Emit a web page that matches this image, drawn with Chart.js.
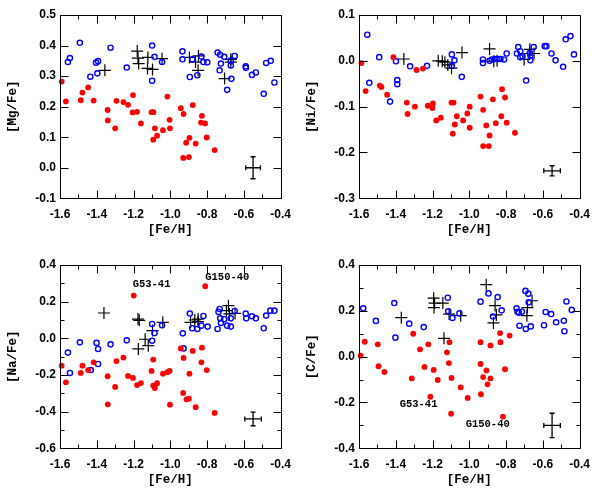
<!DOCTYPE html>
<html>
<head>
<meta charset="UTF-8">
<title>[X/Fe] vs [Fe/H]</title>
<script src="https://cdn.jsdelivr.net/npm/chart.js"></script>
<style>
  body { margin: 0; background: #fff; }
  #wrap { position: relative; width: 599px; height: 499px; overflow: hidden; }
  canvas { position: absolute; }
</style>
</head>
<body>
<div id="wrap">
  <canvas id="mg" width="300" height="249" style="left:0;top:0"></canvas>
  <canvas id="ni" width="300" height="249" style="left:299px;top:0"></canvas>
  <canvas id="na" width="300" height="250" style="left:0;top:249px"></canvas>
  <canvas id="cf" width="300" height="250" style="left:299px;top:249px"></canvas>
</div>
<script>
// x axis, shared by all panels
const feTicks = [-1.6, -1.4, -1.2, -1.0, -0.8, -0.6, -0.4];

// [Mg/Fe]
const mgTicks = [-0.1, 0.0, 0.1, 0.2, 0.3, 0.4, 0.5];
const mgBlue = [[-1.557,0.346],[-1.546,0.359],[-1.492,0.409],[-1.435,0.298],[-1.404,0.344],[-1.393,0.349],[-1.397,0.309],[-1.325,0.393],[-1.237,0.328],[-1.099,0.400],[-1.099,0.285],[-1.086,0.363],[-1.045,0.346],[-0.934,0.381],[-0.934,0.355],[-0.894,0.297],[-0.880,0.355],[-0.853,0.303],[-0.831,0.364],[-0.820,0.346],[-0.799,0.345],[-0.743,0.377],[-0.729,0.370],[-0.732,0.319],[-0.725,0.341],[-0.707,0.363],[-0.691,0.255],[-0.671,0.351],[-0.671,0.335],[-0.668,0.291],[-0.650,0.366],[-0.590,0.332],[-0.589,0.327],[-0.556,0.304],[-0.535,0.312],[-0.492,0.242],[-0.479,0.343],[-0.454,0.350],[-0.434,0.279]];
const mgRed = [[-1.591,0.282],[-1.568,0.217],[-1.487,0.221],[-1.478,0.246],[-1.447,0.263],[-1.417,0.220],[-1.341,0.189],[-1.340,0.155],[-1.300,0.129],[-1.293,0.219],[-1.255,0.215],[-1.230,0.206],[-1.203,0.238],[-1.205,0.181],[-1.181,0.183],[-1.160,0.145],[-1.102,0.182],[-1.092,0.182],[-1.093,0.092],[-1.084,0.129],[-1.072,0.105],[-1.040,0.123],[-1.016,0.233],[-1.004,0.157],[-1.002,0.129],[-0.943,0.195],[-0.928,0.176],[-0.930,0.032],[-0.914,0.082],[-0.896,0.098],[-0.899,0.035],[-0.878,0.205],[-0.862,0.079],[-0.833,0.148],[-0.828,0.170],[-0.811,0.145],[-0.802,0.099],[-0.759,0.058]];
const mgPlus = [[-1.356,0.319],[-1.180,0.382],[-1.176,0.359],[-1.172,0.341],[-1.122,0.361],[-1.124,0.325],[-1.097,0.322],[-1.045,0.357],[-0.896,0.361],[-0.863,0.346],[-0.847,0.366],[-0.849,0.319],[-0.705,0.292],[-0.671,0.355],[-0.671,0.346]];
const mgErr = [-0.55, 0.0, 0.04, 0.036];

// [Ni/Fe]
const niTicks = [-0.3, -0.2, -0.1, 0.0, 0.1];
const niBlue = [[-1.555,0.057],[-1.544,-0.048],[-1.490,0.008],[-1.431,-0.089],[-1.399,-0.001],[-1.392,-0.042],[-1.392,-0.051],[-1.322,-0.012],[-1.230,-0.011],[-1.095,0.014],[-1.095,-0.011],[-1.081,0.001],[-1.041,-0.035],[-0.926,0.003],[-0.926,-0.005],[-0.890,0.000],[-0.878,0.003],[-0.862,0.004],[-0.847,0.004],[-0.831,0.004],[-0.811,0.003],[-0.797,0.016],[-0.734,0.030],[-0.741,0.016],[-0.723,0.021],[-0.723,0.008],[-0.711,0.010],[-0.691,-0.043],[-0.671,0.017],[-0.668,0.012],[-0.668,0.001],[-0.650,0.030],[-0.590,0.032],[-0.581,0.032],[-0.553,0.016],[-0.531,0.001],[-0.490,-0.013],[-0.476,0.047],[-0.450,0.054],[-0.431,0.014]];
const niRed = [[-1.587,-0.005],[-1.564,-0.066],[-1.487,-0.054],[-1.478,-0.057],[-1.447,-0.074],[-1.413,0.008],[-1.340,-0.091],[-1.336,-0.116],[-1.296,-0.100],[-1.287,-0.020],[-1.252,-0.017],[-1.226,-0.098],[-1.201,-0.103],[-1.198,-0.093],[-1.180,-0.130],[-1.155,-0.124],[-1.097,-0.091],[-1.086,-0.091],[-1.090,-0.159],[-1.079,-0.139],[-1.068,-0.121],[-1.034,-0.130],[-1.011,-0.115],[-0.998,-0.100],[-0.998,-0.146],[-0.939,-0.078],[-0.925,-0.107],[-0.925,-0.186],[-0.908,-0.141],[-0.894,-0.186],[-0.890,-0.163],[-0.872,-0.084],[-0.856,-0.136],[-0.826,-0.121],[-0.822,-0.062],[-0.806,-0.080],[-0.797,-0.135],[-0.752,-0.157]];
const niPlus = [[-1.356,0.004],[-1.169,0.000],[-1.147,-0.001],[-1.133,-0.003],[-1.117,-0.009],[-1.097,-0.016],[-1.040,0.018],[-0.890,0.026],[-0.867,-0.001],[-0.849,0.000],[-0.702,0.003],[-0.671,0.025],[-0.671,0.016],[-0.648,0.016]];
const niErr = [-0.55, -0.24, 0.045, 0.011];

// [Na/Fe]
const naTicks = [-0.6, -0.4, -0.2, 0.0, 0.2, 0.4];
const naBlue = [[-1.557,-0.078],[-1.546,-0.189],[-1.492,-0.022],[-1.433,-0.173],[-1.401,-0.025],[-1.393,-0.058],[-1.393,-0.140],[-1.325,-0.033],[-1.237,-0.011],[-1.099,0.078],[-1.099,-0.013],[-1.086,0.029],[-1.045,0.071],[-0.932,0.027],[-0.928,-0.055],[-0.894,0.135],[-0.881,0.055],[-0.853,0.051],[-0.831,0.069],[-0.820,0.122],[-0.797,0.064],[-0.743,0.051],[-0.738,0.144],[-0.732,0.160],[-0.729,0.109],[-0.725,0.084],[-0.707,0.104],[-0.691,0.069],[-0.671,0.064],[-0.671,0.109],[-0.650,0.149],[-0.590,0.135],[-0.587,0.109],[-0.556,0.120],[-0.535,0.109],[-0.492,0.055],[-0.479,0.124],[-0.456,0.151],[-0.434,0.151]];
const naRed = [[-1.591,-0.149],[-1.568,-0.240],[-1.487,-0.189],[-1.478,-0.149],[-1.447,-0.173],[-1.417,-0.131],[-1.341,-0.207],[-1.340,-0.360],[-1.300,-0.265],[-1.293,-0.124],[-1.255,-0.105],[-1.230,-0.205],[-1.203,-0.216],[-1.199,0.233],[-1.181,-0.255],[-1.160,-0.244],[-1.102,-0.178],[-1.093,-0.116],[-1.093,-0.258],[-1.084,-0.271],[-1.072,-0.245],[-1.040,-0.193],[-1.016,-0.185],[-1.004,-0.178],[-1.002,-0.362],[-0.943,-0.055],[-0.928,-0.107],[-0.930,-0.298],[-0.912,-0.333],[-0.899,-0.329],[-0.896,-0.193],[-0.878,-0.069],[-0.862,-0.376],[-0.831,-0.131],[-0.828,-0.051],[-0.810,0.284],[-0.802,-0.173],[-0.759,-0.407]];
const naPlus = [[-1.361,0.138],[-1.176,0.105],[-1.169,0.098],[-1.174,-0.058],[-1.137,-0.005],[-1.120,-0.040],[-1.097,0.042],[-1.041,0.087],[-0.890,0.087],[-0.867,0.100],[-0.849,0.105],[-0.849,0.091],[-0.695,0.151],[-0.684,0.178],[-0.679,0.133],[-0.648,0.136]];
const naErr = [-0.55, -0.44, 0.045, 0.037];
const naNotes = [['G53-41', -1.205, 0.293], ['G150-40', -0.81, 0.331]];

// [C/Fe]
const cTicks = [-0.4, -0.2, 0.0, 0.2, 0.4];
const cBlue = [[-1.577,0.211],[-1.508,0.156],[-1.408,0.234],[-1.402,0.083],[-1.327,0.144],[-1.248,0.129],[-1.117,0.257],[-1.115,0.198],[-1.092,0.169],[-1.054,0.189],[-0.939,0.240],[-0.896,0.276],[-0.871,0.175],[-0.846,0.260],[-0.824,0.202],[-0.743,0.211],[-0.738,0.196],[-0.731,0.192],[-0.727,0.135],[-0.714,0.196],[-0.695,0.287],[-0.693,0.121],[-0.679,0.275],[-0.677,0.237],[-0.666,0.132],[-0.594,0.137],[-0.585,0.195],[-0.555,0.186],[-0.528,0.150],[-0.486,0.157],[-0.483,0.111],[-0.472,0.241],[-0.443,0.204]];
const cRed = [[-1.591,0.004],[-1.569,0.065],[-1.498,0.054],[-1.494,-0.042],[-1.462,-0.067],[-1.313,-0.095],[-1.305,0.100],[-1.268,0.032],[-1.244,-0.045],[-1.223,0.054],[-1.212,-0.175],[-1.194,-0.058],[-1.172,-0.102],[-1.122,0.019],[-1.111,-0.028],[-1.108,0.063],[-1.097,-0.093],[-1.099,-0.249],[-1.047,-0.134],[-1.009,-0.180],[-0.939,0.063],[-0.939,-0.032],[-0.937,-0.164],[-0.925,-0.089],[-0.907,-0.060],[-0.901,-0.121],[-0.885,-0.095],[-0.885,0.049],[-0.833,0.103],[-0.831,0.063],[-0.817,-0.262],[-0.806,-0.055],[-0.781,0.092]];
const cPlus = [[-1.370,0.170],[-1.194,0.255],[-1.192,0.214],[-1.189,0.234],[-1.144,0.234],[-1.138,0.080],[-1.110,0.186],[-1.047,0.179],[-0.908,0.314],[-0.869,0.147],[-0.860,0.223],[-0.853,0.182],[-0.687,0.179],[-0.684,0.214],[-0.659,0.244]];
const cErr = [-0.55, -0.30, 0.045, 0.053];
const cNotes = [['G53-41', -1.379, -0.208], ['G150-40', -1.020, -0.297]];

Chart.defaults.font.family = 'Liberation Sans, Arial, sans-serif';
Chart.defaults.font.size = 12;
Chart.defaults.font.weight = 'bold';
Chart.defaults.color = '#000';

const mono = 'Liberation Mono, monospace';

// frame with inward ticks, error cross and star labels
const framePlugin = {
  id: 'frame',
  afterDatasetsDraw(chart, args, opts) {
    const {ctx, chartArea: a, scales: {x, y}} = chart;
    const L = Math.round(a.left) + 0.5, R = Math.round(a.right) + 0.5;
    const T = Math.round(a.top) + 0.5, B = Math.round(a.bottom) + 0.5;
    ctx.save();
    ctx.strokeStyle = '#000';
    ctx.lineWidth = 1;
    ctx.strokeRect(L, T, R - L, B - T);
    ctx.beginPath();
    const xt = x.ticks.map(t => t.value);
    xt.forEach((v, i) => {
      const px = Math.round(x.getPixelForValue(v)) + 0.5;
      ctx.moveTo(px, B); ctx.lineTo(px, B - 8);
      ctx.moveTo(px, T); ctx.lineTo(px, T + 8);
      if (i < xt.length - 1) {
        const pm = Math.round(x.getPixelForValue((v + xt[i + 1]) / 2)) + 0.5;
        ctx.moveTo(pm, B); ctx.lineTo(pm, B - 4);
        ctx.moveTo(pm, T); ctx.lineTo(pm, T + 4);
      }
    });
    const yt = y.ticks.map(t => t.value);
    yt.forEach((v, i) => {
      const py = Math.round(y.getPixelForValue(v)) + 0.5;
      ctx.moveTo(L, py); ctx.lineTo(L + 8, py);
      ctx.moveTo(R, py); ctx.lineTo(R - 8, py);
      if (opts.minorY && i < yt.length - 1) {
        const pm = Math.round(y.getPixelForValue((v + yt[i + 1]) / 2)) + 0.5;
        ctx.moveTo(L, pm); ctx.lineTo(L + 4, pm);
        ctx.moveTo(R, pm); ctx.lineTo(R - 4, pm);
      }
    });
    ctx.stroke();

    // typical error bar
    const [ex, ey, dx, dy] = opts.err;
    const cx = x.getPixelForValue(ex), cy = y.getPixelForValue(ey);
    const x0 = x.getPixelForValue(ex - dx), x1 = x.getPixelForValue(ex + dx);
    const y0 = y.getPixelForValue(ey + dy), y1 = y.getPixelForValue(ey - dy);
    ctx.lineWidth = 1.3;
    ctx.beginPath();
    ctx.moveTo(x0, cy); ctx.lineTo(x1, cy);
    ctx.moveTo(cx, y0); ctx.lineTo(cx, y1);
    ctx.moveTo(x0, cy - 2.5); ctx.lineTo(x0, cy + 2.5);
    ctx.moveTo(x1, cy - 2.5); ctx.lineTo(x1, cy + 2.5);
    ctx.moveTo(cx - 2.5, y0); ctx.lineTo(cx + 2.5, y0);
    ctx.moveTo(cx - 2.5, y1); ctx.lineTo(cx + 2.5, y1);
    ctx.stroke();

    (opts.notes || []).forEach(([txt, vx, vy]) => {
      ctx.font = 'bold 10.5px ' + mono;
      ctx.fillStyle = '#000';
      ctx.textAlign = 'left';
      ctx.textBaseline = 'middle';
      ctx.fillText(txt, x.getPixelForValue(vx), y.getPixelForValue(vy));
    });
    ctx.restore();
  }
};

function makePanel(id, title, yTicks, blue, red, plus, err, notes, minorY) {
  const cv = document.getElementById(id);
  const top = cv.height === 249 ? 15 : 16;
  new Chart(cv, {
    type: 'scatter',
    data: {
      datasets: [
        { data: red.map(p => ({x: p[0], y: p[1]})), pointStyle: 'circle', pointRadius: 2.9,
          backgroundColor: '#ff0000', borderColor: '#ff0000', borderWidth: 0 },
        { data: blue.map(p => ({x: p[0], y: p[1]})), pointStyle: 'circle', pointRadius: 2.6,
          backgroundColor: 'rgba(0,0,0,0)', borderColor: '#0000ff', borderWidth: 1.4 },
        { data: plus.map(p => ({x: p[0], y: p[1]})), pointStyle: 'cross', pointRadius: 6,
          borderColor: '#000', borderWidth: 1.2 }
      ]
    },
    options: {
      responsive: false,
      animation: false,
      devicePixelRatio: 1,
      layout: { padding: { top: top, right: 17, left: 0, bottom: 0 } },
      plugins: {
        legend: { display: false },
        tooltip: { enabled: false },
        frame: { err: err, notes: notes, minorY: minorY }
      },
      elements: { point: { hoverRadius: 0 } },
      datasets: { scatter: { clip: false } },
      scales: {
        x: {
          type: 'linear', min: feTicks[0], max: feTicks[feTicks.length - 1],
          afterBuildTicks: s => { s.ticks = feTicks.map(v => ({value: v})); },
          afterFit: s => { s.height = cv.height - (top + 183.3); },
          grid: { display: false, drawTicks: false }, border: { display: false },
          ticks: { padding: 9, maxRotation: 0, autoSkip: false, callback: v => v.toFixed(1) },
          title: { display: true, text: '[Fe/H]', font: { family: mono, size: 12.5, weight: 'bold' }, padding: { top: 0, bottom: 12 } }
        },
        y: {
          type: 'linear', min: yTicks[0], max: yTicks[yTicks.length - 1],
          afterBuildTicks: s => { s.ticks = yTicks.map(v => ({value: v})); },
          afterFit: s => { s.width = 60; },
          grid: { display: false, drawTicks: false }, border: { display: false },
          ticks: { padding: 4, autoSkip: false, callback: v => v.toFixed(1) },
          title: { display: true, text: title, font: { family: mono, size: 12.5, weight: 'bold' }, padding: { top: 5, bottom: 0 } }
        }
      }
    },
    plugins: [framePlugin]
  });
}

makePanel('mg', '[Mg/Fe]', mgTicks, mgBlue, mgRed, mgPlus, mgErr, [], false);
makePanel('ni', '[Ni/Fe]', niTicks, niBlue, niRed, niPlus, niErr, [], false);
makePanel('na', '[Na/Fe]', naTicks, naBlue, naRed, naPlus, naErr, naNotes, true);
makePanel('cf', '[C/Fe]', cTicks, cBlue, cRed, cPlus, cErr, cNotes, true);
</script>
</body>
</html>
